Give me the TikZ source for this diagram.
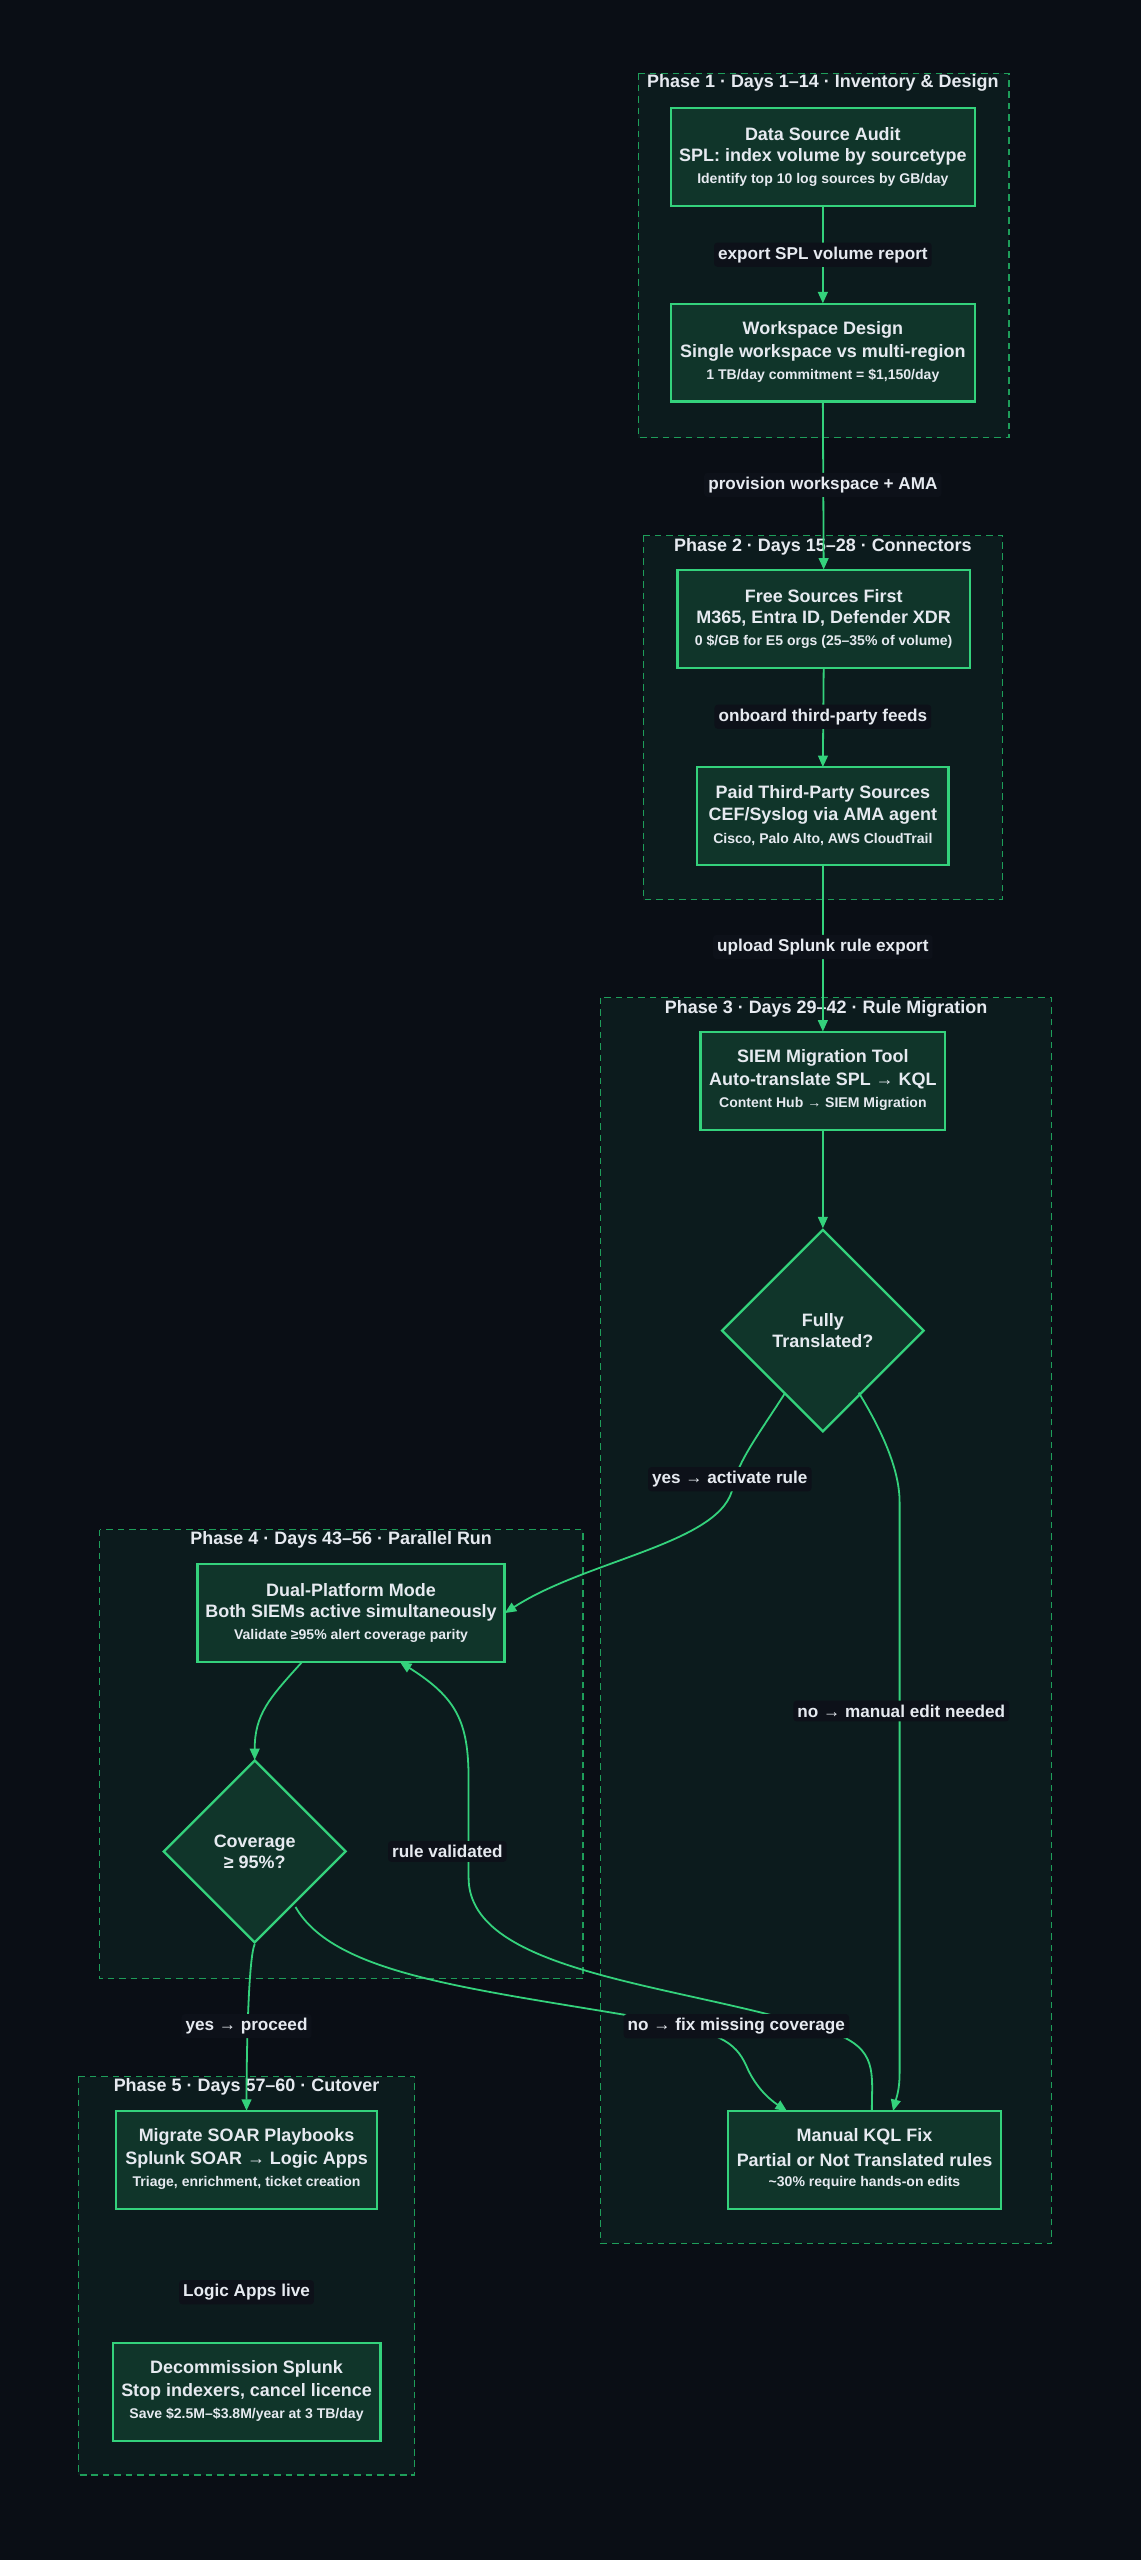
\documentclass[tikz,border=0pt]{standalone}
\usepackage{fontspec}
\setmainfont{Liberation Sans}
\usetikzlibrary{arrows.meta,shapes.geometric}
\definecolor{bg}{HTML}{0A0E15}
\definecolor{clfill}{HTML}{0C1B1D}
\definecolor{clline}{HTML}{1E9E5A}
\definecolor{boxfill}{HTML}{10352A}
\definecolor{boxline}{HTML}{34D27C}
\definecolor{txt}{HTML}{E6EAF0}
\definecolor{lblbg}{HTML}{0D1119}
\begin{document}
\begin{tikzpicture}[x=1pt,y=-1pt,
  cluster/.style={draw=clline,fill=clfill,dashed,line width=0.8pt,dash pattern=on 4pt off 3pt},
  ctitle/.style={text=txt,font=\bfseries\fontsize{11}{13}\selectfont,anchor=center},
  box/.style={draw=boxline,fill=boxfill,line width=1.4pt},
  dia/.style={diamond,aspect=1,draw=boxline,fill=boxfill,line width=1.4pt,inner sep=0pt},
  btxt/.style={text=txt,font=\bfseries\fontsize{11}{13}\selectfont,align=center},
  stxt/.style={text=txt,font=\bfseries\fontsize{8.6}{10}\selectfont},
  lbl/.style={fill=lblbg,text=txt,rounded corners=2pt,inner sep=2.5pt,font=\bfseries\fontsize{10.5}{12}\selectfont},
  edge/.style={draw=boxline,line width=1.1pt,-{Triangle[length=7pt,width=6pt]}}]
\fill[bg] (0,0) rectangle (699,1568);
\useasboundingbox (0,0) rectangle (699,1568);
% clusters
\draw[cluster] (391,45) rectangle (618,268);
\node[ctitle] (t1) at (504,51) {Phase 1 · Days 1–14 · Inventory \& Design};
\draw[cluster] (394,328) rectangle (614,551);
\node[ctitle] (t2) at (504,335) {Phase 2 · Days 15–28 · Connectors};
\draw[cluster] (368,611) rectangle (644,1374);
\node[ctitle] (t3) at (506,618) {Phase 3 · Days 29–42 · Rule Migration};
\draw[cluster] (61,937) rectangle (357,1212);
\node[ctitle] (t4) at (209,943) {Phase 4 · Days 43–56 · Parallel Run};
\draw[cluster] (48,1272) rectangle (254,1516);
\node[ctitle] (t5) at (151,1278) {Phase 5 · Days 57–60 · Cutover};
% boxes
\newcommand{\mybox}[8]{%
  \draw[box] (#2,#3) rectangle (#4,#5);
  \path (#2,#3) rectangle (#4,#5);
  \node[inner sep=0pt] (#1) at ({(#2+#4)/2},{(#3+#5)/2}) [minimum width={#4-#2},minimum height={#5-#3}] {};
  \node[btxt] (#1a) at ({(#2+#4)/2},{(#3+#5)/2-14}) {#6};
  \node[btxt] (#1b) at ({(#2+#4)/2},{(#3+#5)/2}) {#7};
  \node[stxt] (#1c) at ({(#2+#4)/2},{(#3+#5)/2+14}) {#8};}
\mybox{A}{411}{66}{597}{126}{Data Source Audit}{SPL: index volume by sourcetype}{Identify top 10 log sources by GB/day}
\mybox{B}{411}{186}{597}{246}{Workspace Design}{Single workspace vs multi-region}{1 TB/day commitment = \$1,150/day}
\mybox{C}{415}{349}{594}{409}{Free Sources First}{M365, Entra ID, Defender XDR}{0 \$/GB for E5 orgs (25–35\% of volume)}
\mybox{D}{427}{470}{581}{530}{Paid Third-Party Sources}{CEF/Syslog via AMA agent}{Cisco, Palo Alto, AWS CloudTrail}
\mybox{E}{429}{632}{579}{692}{SIEM Migration Tool}{Auto-translate SPL → KQL}{Content Hub → SIEM Migration}
\mybox{G}{121}{958}{309}{1018}{Dual-Platform Mode}{Both SIEMs active simultaneously}{Validate ≥95\% alert coverage parity}
\mybox{I}{71}{1293}{231}{1353}{Migrate SOAR Playbooks}{Splunk SOAR → Logic Apps}{Triage, enrichment, ticket creation}
\mybox{J}{69}{1435}{233}{1495}{Decommission Splunk}{Stop indexers, cancel licence}{Save \$2.5M–\$3.8M/year at 3 TB/day}
\mybox{K}{446}{1293}{613}{1353}{Manual KQL Fix}{Partial or Not Translated rules}{\textasciitilde30\% require hands-on edits}
% diamonds
\node[dia,minimum size=124pt] (F) at (504,815) {};
\node[btxt] (Ft) at (504,815) {Fully\\Translated?};
\node[dia,minimum size=112pt] (H) at (156,1134) {};
\node[btxt] (Ht) at (156,1134) {Coverage\\≥ 95\%?};
% edges
\draw[edge] (A.south) -- (B.north);
\draw[edge] (B.south) -- (C.north);
\draw[edge] (C.south) -- (D.north);
\draw[edge] (D.south) -- (E.north);
\draw[edge] (E.south) -- (F.north);
\draw[edge] (481,853) .. controls (465,878) and (452,895) .. (449,910) .. controls (444,945) and (360,955) .. (G.east);
\draw[edge] (526,853) .. controls (540,876) and (551,900) .. (551,920) -- (551,1270) .. controls (551,1280) and (549,1285) .. (547,1293);
\draw[edge] (185,1018) .. controls (165,1040) and (156,1050) .. (156,1078);
\draw[edge] (H.south) .. controls (152,1200) and (151,1260) .. (I.north);
\draw[edge] (181,1168) .. controls (205,1210) and (290,1218) .. (400,1237) .. controls (440,1245) and (450,1250) .. (457,1265) .. controls (462,1277) and (470,1285) .. (482,1293);
\draw[edge] (534,1293) .. controls (534,1270) and (538,1255) .. (510,1245) .. controls (420,1215) and (287,1210) .. (287,1150) -- (287,1090) .. controls (287,1055) and (280,1040) .. (245,1018);
% labels
\node[lbl] (l1) at (504,156) {export SPL volume report};
\node[lbl] (l2) at (504,297) {provision workspace + AMA};
\node[lbl] (l3) at (504,439) {onboard third-party feeds};
\node[lbl] (l4) at (504,580) {upload Splunk rule export};
\node[lbl] (l5) at (447,906) {yes → activate rule};
\node[lbl] (l6) at (552,1048) {no → manual edit needed};
\node[lbl] (l7) at (274,1134) {rule validated};
\node[lbl] (l8) at (151,1241) {yes → proceed};
\node[lbl] (l9) at (451,1241) {no → fix missing coverage};
\node[lbl] (l10) at (151,1404) {Logic Apps live};
\end{tikzpicture}
\end{document}
